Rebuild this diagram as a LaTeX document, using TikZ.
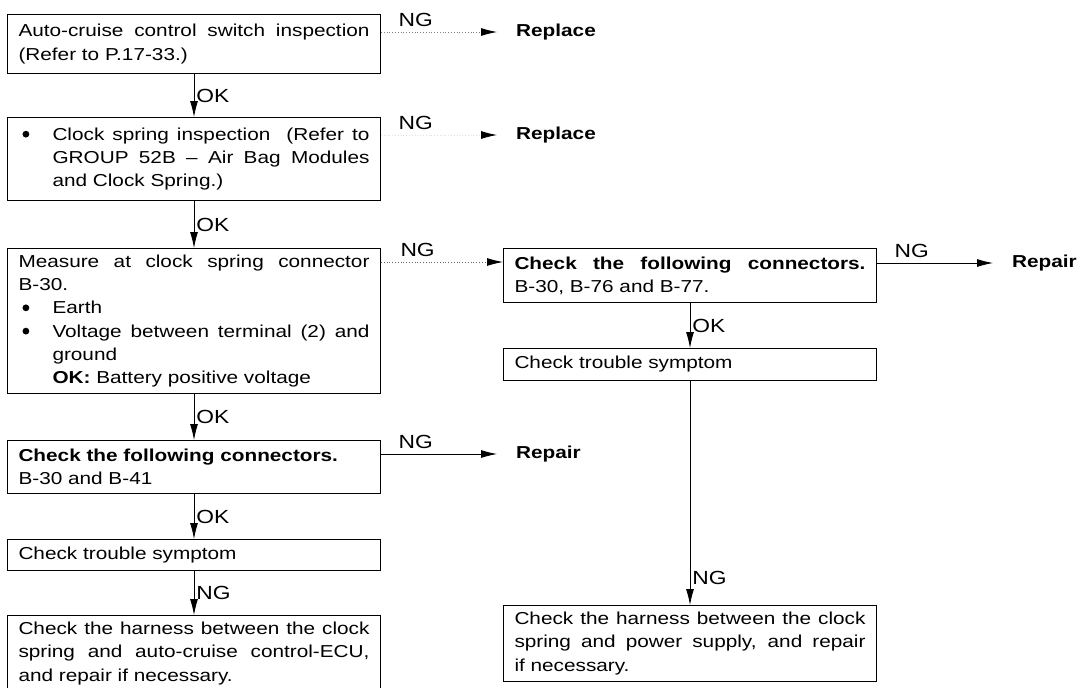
\documentclass[tikz,border=0pt]{standalone}
\usepackage{fontspec}
\setmainfont{Liberation Sans}[FakeStretch=1.2]
\usetikzlibrary{arrows.meta}
\setlength{\parindent}{0pt}
\newcommand{\itembul}[1]{\noindent\makebox[34pt][l]{\hspace{4pt}\raisebox{2.6pt}{\tikz\fill (0,0) circle (3.4pt);}}\parbox[t]{317pt}{#1}}

\begin{document}
\begin{tikzpicture}[x=1pt, y=-1pt]
		\tikzstyle {inspect box} = [draw, line width=1pt, anchor=north west, text width=351pt, inner xsep=11pt, inner ysep=3pt, align=justify, font=\fontsize{17.3}{23.3}\selectfont]
		\tikzstyle {outcome} = [anchor=west, inner xsep=19pt, inner ysep=0pt, font=\fontsize{17.3}{23.3}\selectfont\bfseries]
		\tikzstyle {lbl} = [inner sep=2pt, font=\fontsize{19}{23.3}\selectfont]
		\tikzstyle {flow} = [line width=0.8pt, -{Latex[length=16pt, width=8pt, color=black]}]

		\useasboundingbox (0, 0) rectangle (1079, 688);

		\node[inspect box, minimum height=59pt] (switch) at (7, 14)
			{Auto-cruise control switch inspection\linebreak (Refer to P.17-33.)};
		\node[inspect box, minimum height=83pt] (spring) at (7, 117)
			{\itembul{Clock spring inspection\ \ (Refer to\linebreak GROUP 52B -- Air Bag Modules\linebreak and Clock Spring.)}};
		\node[inspect box, minimum height=145pt] (measure) at (7, 248)
			{Measure at clock spring connector\linebreak B-30.\par
			\itembul{Earth}\par
			\itembul{Voltage between terminal (2) and\linebreak ground\newline \textbf{OK:} Battery positive voltage}};
		\node[inspect box, minimum height=53pt] (conn) at (7, 440)
			{\textbf{Check the following connectors.}\newline B-30 and B-41};
		\node[inspect box, minimum height=31pt] (sympt) at (7, 539) {Check trouble symptom};
		\node[inspect box, minimum height=76pt] (harness) at (7, 615)
			{Check the harness between the clock\linebreak spring and auto-cruise control-ECU,\linebreak and repair if necessary.};

		\node[inspect box, minimum height=54pt] (connR) at (503, 248)
			{\textbf{Check the following connectors.}\linebreak B-30, B-76 and B-77.};
		\node[inspect box, minimum height=32pt] (symptR) at (503, 348) {Check trouble symptom};
		\node[inspect box, minimum height=76pt] (harnessR) at (503, 605)
			{Check the harness between the clock\linebreak spring and power supply, and repair\linebreak if necessary.};

		\node[outcome] (replaceA) at (497, 32) {Replace};
		\node[outcome] (replaceB) at (497, 135) {Replace};
		\node[outcome] (repairA) at (993, 263) {Repair};
		\node[outcome] (repairB) at (497, 454) {Repair};
		\coordinate (inR) at ([yshift=-14pt]connR.north west);

		\draw[flow] (switch.south) -- node[lbl, right] {OK} (spring.north);
		\draw[flow] (spring.south) -- node[lbl, right] {OK} (measure.north);
		\draw[flow] (measure.south) -- node[lbl, right] {OK} (conn.north);
		\draw[flow] (conn.south) -- node[lbl, right] {OK} (sympt.north);
		\draw[flow] (sympt.south) -- node[lbl, right] {NG} (harness.north);
		\draw[flow] (connR.south) -- node[lbl, right] {OK} (symptR.north);
		\draw[flow] (symptR.south) -- node[lbl, right, pos=0.88] {NG} (harnessR.north);

		\draw[flow, dotted, draw=black!50] (switch.east |- replaceA) -- node[lbl, above=3pt, pos=0.3, text=black] {NG} (replaceA.west);
		\draw[flow, dotted, draw=black!12] (spring.east |- replaceB) -- node[lbl, above=3pt, pos=0.3, text=black] {NG} (replaceB.west);
		\draw[flow, dotted, draw=black!60] (measure.east |- inR) -- node[lbl, above=3pt, pos=0.3, text=black] {NG} (inR);
		\draw[flow] (connR.east |- repairA) -- node[lbl, above=3pt, pos=0.3] {NG} (repairA.west);
		\draw[flow] (conn.east |- repairB) -- node[lbl, above=3pt, pos=0.3] {NG} (repairB.west);
	\end{tikzpicture}
\end{document}
